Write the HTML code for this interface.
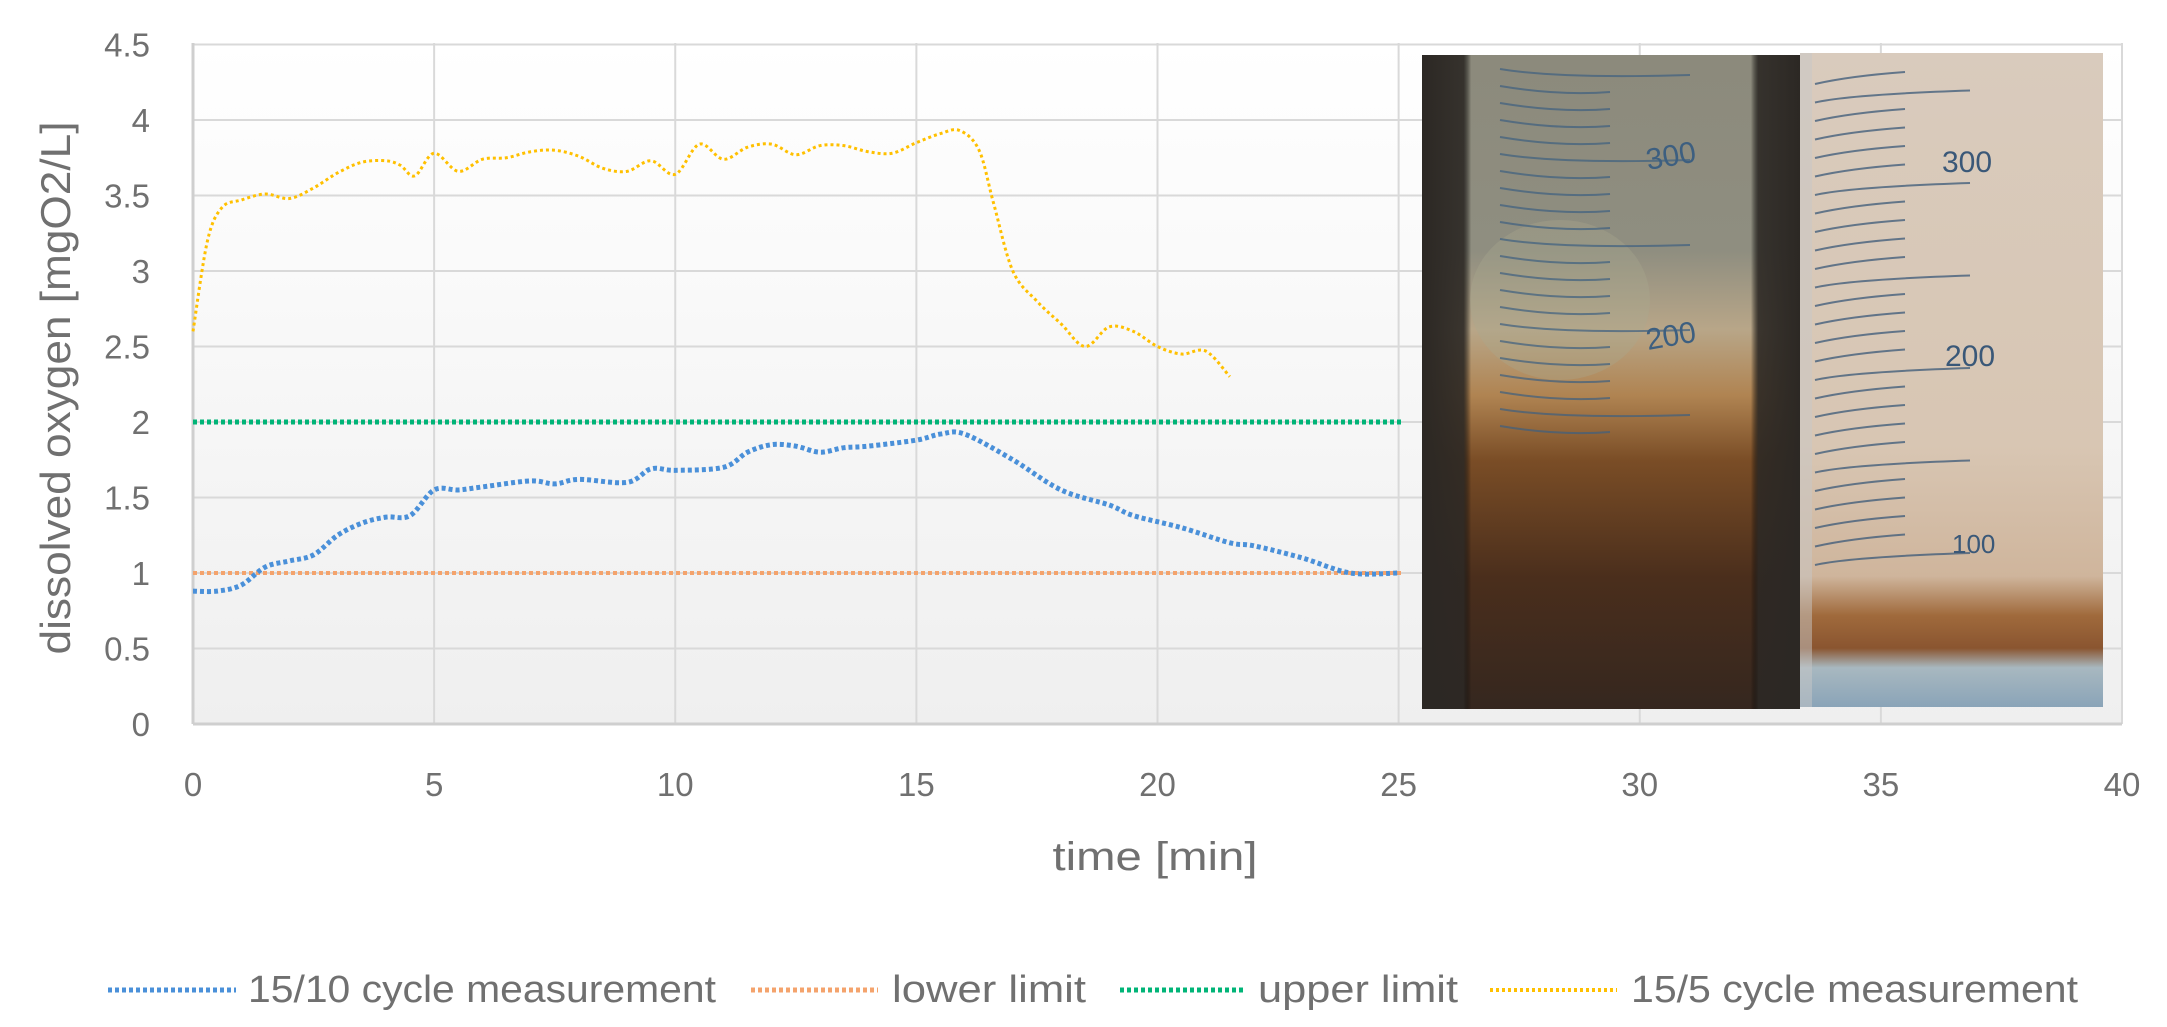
<!DOCTYPE html>
<html><head><meta charset="utf-8"><style>
html,body{margin:0;padding:0;background:#fff;}
svg{display:block;font-family:"Liberation Sans",sans-serif;}
</style></head><body>
<svg id="s" width="2167" height="1027" viewBox="0 0 2167 1027" xmlns="http://www.w3.org/2000/svg">
<defs>
<linearGradient id="bg" x1="0" y1="0" x2="0" y2="1"><stop offset="0" stop-color="#ffffff"/><stop offset="1" stop-color="#efefef"/></linearGradient>
<linearGradient id="lp" x1="0" y1="0" x2="0" y2="1">
<stop offset="0" stop-color="#8c8a7c"/><stop offset="0.3" stop-color="#8f8e80"/><stop offset="0.42" stop-color="#b8a688"/><stop offset="0.52" stop-color="#b08452"/><stop offset="0.62" stop-color="#7a4d26"/><stop offset="0.8" stop-color="#4a2e1c"/><stop offset="1" stop-color="#35271f"/></linearGradient>
<linearGradient id="ls" x1="0" y1="0" x2="1" y2="0"><stop offset="0" stop-color="#2c2824"/><stop offset="0.11" stop-color="#2c2824" stop-opacity="0.9"/><stop offset="0.13" stop-color="#000" stop-opacity="0"/><stop offset="0.87" stop-color="#000" stop-opacity="0"/><stop offset="0.89" stop-color="#2c2824" stop-opacity="0.9"/><stop offset="1" stop-color="#2c2824"/></linearGradient>
<linearGradient id="rp" x1="0" y1="0" x2="0" y2="1">
<stop offset="0" stop-color="#d9cbbd"/><stop offset="0.6" stop-color="#d8c6b3"/><stop offset="0.8" stop-color="#cfb59c"/><stop offset="0.86" stop-color="#a06a3c"/><stop offset="0.91" stop-color="#8a5530"/><stop offset="0.94" stop-color="#a8b8c0"/><stop offset="1" stop-color="#8aa4b8"/></linearGradient>
</defs>
<rect x="193" y="43" width="1929" height="681" fill="url(#bg)"/>
<g id="grid" stroke="#d9d9d9" stroke-width="2"></g>
<line x1="193" y1="43" x2="193" y2="724" stroke="#cfcfcf" stroke-width="3"/>
<line x1="193" y1="724" x2="2122" y2="724" stroke="#cfcfcf" stroke-width="3"/>
<g id="ticks" fill="#707070" font-size="33"></g>
<text x="1155" y="870" font-size="40" fill="#707070" text-anchor="middle" textLength="205" lengthAdjust="spacingAndGlyphs">time [min]</text>
<text transform="translate(70,388) rotate(-90)" font-size="42" fill="#707070" text-anchor="middle" textLength="533" lengthAdjust="spacingAndGlyphs">dissolved oxygen [mgO2/L]</text>
<line x1="193" y1="573" x2="1403" y2="573" stroke="#f4a36c" stroke-width="4" stroke-dasharray="4 3"/>
<line x1="193" y1="422" x2="1403" y2="422" stroke="#00b477" stroke-width="5" stroke-dasharray="4 3"/>
<path id="blue" fill="none" stroke="#4a90d9" stroke-width="5" stroke-dasharray="4 3"/>
<path id="yel" fill="none" stroke="#ffc000" stroke-width="3" stroke-dasharray="3 3"/>
<!-- photos -->
<rect x="1422" y="55" width="378" height="654" fill="url(#lp)"/>
<rect x="1422" y="55" width="378" height="654" fill="url(#ls)"/>
<ellipse cx="1560" cy="300" rx="90" ry="80" fill="#a8a890" opacity="0.35"/>
<g stroke="#3d5f80" stroke-width="2" fill="none" id="lgrad"></g>
<text x="1648" y="170" font-size="30" fill="#3d5f80" transform="rotate(-10 1648 170)">300</text>
<text x="1648" y="350" font-size="30" fill="#3d5f80" transform="rotate(-10 1648 350)">200</text>
<rect x="1800" y="53" width="303" height="654" fill="url(#rp)"/>
<rect x="1800" y="53" width="12" height="654" fill="#c8c8c8" opacity="0.5"/>
<g stroke="#3a5878" stroke-width="2" fill="none" id="rgrad"></g>
<text x="1942" y="172" font-size="30" fill="#3a5878">300</text>
<text x="1945" y="366" font-size="30" fill="#3a5878">200</text>
<text x="1952" y="553" font-size="26" fill="#3a5878">100</text>
<!-- legend -->
<g font-size="38" fill="#707070">
<line x1="108" y1="990" x2="236" y2="990" stroke="#4a90d9" stroke-width="5" stroke-dasharray="4 3"/>
<text x="248" y="1002" textLength="468" lengthAdjust="spacingAndGlyphs">15/10 cycle measurement</text>
<line x1="751" y1="990" x2="878" y2="990" stroke="#f4a36c" stroke-width="5" stroke-dasharray="4 3"/>
<text x="892" y="1002" textLength="194" lengthAdjust="spacingAndGlyphs">lower limit</text>
<line x1="1120" y1="990" x2="1246" y2="990" stroke="#00b477" stroke-width="5" stroke-dasharray="4 3"/>
<text x="1258" y="1002" textLength="200" lengthAdjust="spacingAndGlyphs">upper limit</text>
<line x1="1490" y1="990" x2="1617" y2="990" stroke="#ffc000" stroke-width="4" stroke-dasharray="3 3"/>
<text x="1631" y="1002" textLength="447" lengthAdjust="spacingAndGlyphs">15/5 cycle measurement</text>
</g>
</svg>
<script>
var X=function(t){return 193+t*48.225;},Y=function(v){return 724-v*151;};
var g=document.getElementById('grid'),tk=document.getElementById('ticks'),ns='http://www.w3.org/2000/svg';
function el(p,n,a,txt){var e=document.createElementNS(ns,n);for(var k in a)e.setAttribute(k,a[k]);if(txt)e.textContent=txt;p.appendChild(e);return e;}
for(var i=1;i<=9;i++){el(g,'line',{x1:193,x2:2122,y1:Y(i*0.5),y2:Y(i*0.5)});}
for(var i=1;i<=8;i++){el(g,'line',{x1:X(i*5),x2:X(i*5),y1:43,y2:724});}
for(var i=0;i<=9;i++){el(tk,'text',{x:150,y:Y(i*0.5)+12,'text-anchor':'end'},(i*0.5).toString());}
for(var i=0;i<=8;i++){el(tk,'text',{x:X(i*5),y:796,'text-anchor':'middle'},(i*5).toString());}
function path(d){var p=d.map(function(a){return[X(a[0]),Y(a[1])];});var s='M'+p[0][0]+','+p[0][1];
for(var i=0;i<p.length-1;i++){var p0=p[i-1]||p[i],p1=p[i],p2=p[i+1],p3=p[i+2]||p2;
s+=' C'+(p1[0]+(p2[0]-p0[0])/6)+','+(p1[1]+(p2[1]-p0[1])/6)+' '+(p2[0]-(p3[0]-p1[0])/6)+','+(p2[1]-(p3[1]-p1[1])/6)+' '+p2[0]+','+p2[1];}return s;}
var yel=[[0,2.6],[0.3,3.2],[0.6,3.42],[1,3.47],[1.5,3.51],[2,3.48],[2.5,3.55],[3,3.65],[3.5,3.72],[4,3.73],[4.3,3.7],[4.6,3.63],[5,3.78],[5.5,3.66],[6,3.74],[6.5,3.75],[7,3.79],[7.5,3.8],[8,3.76],[8.5,3.68],[9,3.66],[9.5,3.73],[10,3.64],[10.5,3.84],[11,3.74],[11.5,3.82],[12,3.84],[12.5,3.77],[13,3.83],[13.5,3.83],[14,3.79],[14.5,3.78],[15,3.85],[15.5,3.91],[15.9,3.93],[16.3,3.8],[16.6,3.45],[17,3.0],[17.5,2.8],[18,2.65],[18.5,2.5],[19,2.63],[19.5,2.6],[20,2.5],[20.5,2.45],[21,2.47],[21.5,2.3]];
var blu=[[0,0.88],[0.5,0.88],[1,0.92],[1.5,1.04],[2,1.08],[2.5,1.12],[3,1.25],[3.5,1.33],[4,1.37],[4.5,1.38],[5,1.55],[5.5,1.55],[6,1.57],[7,1.61],[7.5,1.59],[8,1.62],[9,1.6],[9.5,1.69],[10,1.68],[11,1.7],[11.5,1.8],[12,1.85],[12.5,1.84],[13,1.8],[13.5,1.83],[14,1.84],[15,1.88],[15.5,1.92],[16,1.92],[17,1.75],[18,1.55],[19,1.45],[19.5,1.38],[20.5,1.3],[21.5,1.2],[22,1.18],[23,1.1],[24,1.0],[25,1.0]];
document.getElementById('yel').setAttribute('d',path(yel));
document.getElementById('blue').setAttribute('d',path(blu));
var lg=document.getElementById('lgrad');
for(var i=0;i<22;i++){var y=75+i*17;var x2=(i%5==0)?1690:1610;el(lg,'path',{d:'M1500,'+(y-6)+' Q1560,'+(y+4)+' '+x2+','+y,opacity:0.7});}
var rg=document.getElementById('rgrad');
for(var i=0;i<27;i++){var y=80+i*18.5;var x2=(i%5==1)?1970:1905;el(rg,'path',{d:'M1815,'+(y+4)+' Q1850,'+(y-4)+' '+x2+','+(y-8),opacity:0.75});}
</script>
</body></html>
